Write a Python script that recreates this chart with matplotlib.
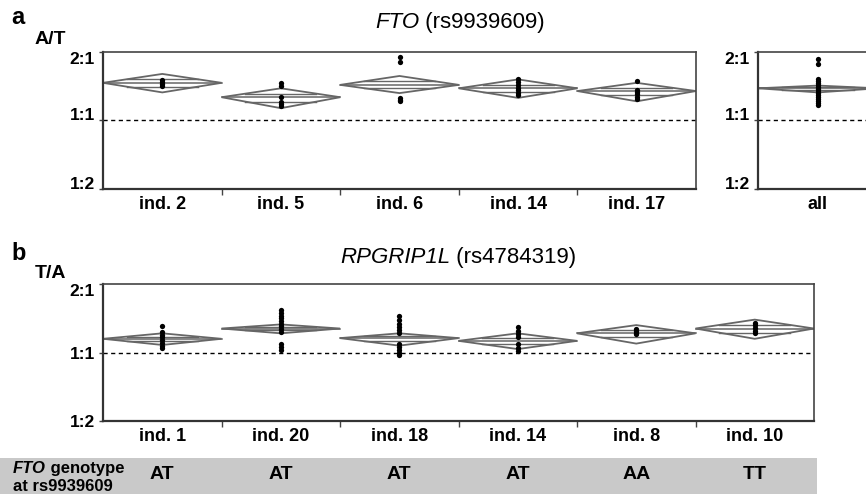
import numpy as np
import matplotlib
matplotlib.use('Agg')
import matplotlib.pyplot as plt
from matplotlib.patches import Polygon, Rectangle
from matplotlib.transforms import blended_transform_factory

plt.rcParams['font.family'] = ['Liberation Sans', 'DejaVu Sans']

# ── data (log2 allelic ratio; 1 = 2:1, 0 = 1:1, -1 = 1:2) ─────────────────
labels_a = ['ind. 2', 'ind. 5', 'ind. 6', 'ind. 14', 'ind. 17']
mean_a   = [0.55, 0.34, 0.52, 0.47, 0.43]
upper_a  = [0.68, 0.47, 0.65, 0.60, 0.55]
lower_a  = [0.41, 0.18, 0.40, 0.33, 0.28]
points_a = [
    [0.59, 0.56, 0.53, 0.50],
    [0.55, 0.50, 0.34, 0.27, 0.24, 0.21],
    [0.93, 0.86, 0.33, 0.30, 0.28],
    [0.60, 0.56, 0.52, 0.48, 0.44, 0.40, 0.37],
    [0.57, 0.45, 0.41, 0.38, 0.35, 0.32],
]

labels_all = ['all']
mean_all   = [0.47]
upper_all  = [0.51]
lower_all  = [0.41]
points_all = [[0.90, 0.83, 0.61, 0.58, 0.55, 0.52, 0.49, 0.46, 0.43,
               0.40, 0.37, 0.34, 0.31, 0.28, 0.25, 0.22]]

labels_b = ['ind. 1', 'ind. 20', 'ind. 18', 'ind. 14', 'ind. 8', 'ind. 10']
mean_b   = [0.20, 0.35, 0.21, 0.17, 0.28, 0.35]
upper_b  = [0.28, 0.41, 0.28, 0.28, 0.40, 0.48]
lower_b  = [0.11, 0.28, 0.10, 0.05, 0.13, 0.20]
points_b = [
    [0.39, 0.30, 0.26, 0.22, 0.18, 0.14, 0.10, 0.07],
    [0.62, 0.58, 0.54, 0.50, 0.46, 0.42, 0.38, 0.34, 0.30, 0.13, 0.08, 0.04],
    [0.53, 0.47, 0.42, 0.37, 0.33, 0.28, 0.12, 0.08, 0.04, 0.00, -0.04],
    [0.37, 0.32, 0.27, 0.22, 0.12, 0.07, 0.02],
    [0.35, 0.32, 0.29, 0.27],
    [0.43, 0.40, 0.36, 0.31, 0.29],
]
genotypes_b = ['AT', 'AT', 'AT', 'AT', 'AA', 'TT']

YTICKS = [1, 0, -1]
YTICKLABELS = ['2:1', '1:1', '1:2']

DCOL = '#666666'


def diamond_panel(ax, labels, means, uppers, lowers, points, yvas):
    n = len(labels)
    for i in range(n):
        m, u, l = means[i], uppers[i], lowers[i]
        poly = Polygon([(i - 0.5, m), (i, u), (i + 0.5, m), (i, l)],
                       closed=True, fill=False, edgecolor=DCOL, lw=1.3, zorder=2)
        ax.add_patch(poly)
        ax.plot([i - 0.5, i + 0.5], [m, m], color=DCOL, lw=1.1, zorder=2)
        # overlap marks
        f = 0.4
        hw = 0.5 * (1 - f)
        ax.plot([i - hw, i + hw], [m + f * (u - m)] * 2, color=DCOL, lw=1.0, zorder=2)
        ax.plot([i - hw, i + hw], [m - f * (m - l)] * 2, color=DCOL, lw=1.0, zorder=2)
        ax.plot([i] * len(points[i]), points[i], 'o', color='black',
                ms=3.8, mew=0, zorder=3)
    ax.axhline(0, color='black', lw=1.0, ls=(0, (3, 2.5)), zorder=1)
    ax.set_xlim(-0.5, n - 0.5)
    ax.set_ylim(-1, 1)
    ax.set_yticks(YTICKS)
    ax.set_yticklabels(YTICKLABELS, fontsize=12.5, fontweight='bold')
    for lab, va in zip(ax.get_yticklabels(), yvas):
        lab.set_verticalalignment(va)
    ax.tick_params(axis='y', length=3, width=1, pad=3, color='#444')
    ax.set_xticks([i + 0.5 for i in range(n - 1)])
    ax.set_xticklabels([])
    ax.tick_params(axis='x', which='major', length=4, width=1, color='#444')
    ax.set_xticks(range(n), minor=True)
    ax.set_xticklabels(labels, minor=True, fontsize=13, fontweight='bold')
    ax.tick_params(axis='x', which='minor', length=0, pad=5)
    for s in ['left', 'bottom']:
        ax.spines[s].set_linewidth(1.6)
        ax.spines[s].set_color('#333')
    for s in ['top', 'right']:
        ax.spines[s].set_linewidth(1.2)
        ax.spines[s].set_color('#444')


W, H = 866, 494
fig = plt.figure(figsize=(W / 100, H / 100), dpi=100)


def px_axes(x0, y0, x1, y1):
    return fig.add_axes([x0 / W, 1 - y1 / H, (x1 - x0) / W, (y1 - y0) / H])


def mixed_text(x_px, y_px, parts, **kw):
    # parts: list of (string, style); drawn one after another on a baseline
    renderer = fig.canvas.get_renderer()
    x = x_px
    for s, style in parts:
        t = fig.text(x / W, 1 - y_px / H, s, style=style, va='baseline',
                     ha='left', **kw)
        x += t.get_window_extent(renderer).width


ax_a = px_axes(103, 52, 696, 189)
diamond_panel(ax_a, labels_a, mean_a, upper_a, lower_a, points_a,
              ['top', 'baseline', 'baseline'])

ax_all = px_axes(758, 52, 878, 189)
diamond_panel(ax_all, labels_all, mean_all, upper_all, lower_all, points_all,
              ['top', 'baseline', 'baseline'])

ax_b = px_axes(103, 284, 814, 421)
diamond_panel(ax_b, labels_b, mean_b, upper_b, lower_b, points_b,
              ['top', 'center_baseline', 'center_baseline'])

# gray genotype band
fig.patches.append(Rectangle((0, 0), 817 / W, 1 - 458 / H, transform=fig.transFigure,
                             facecolor='#c9c9c9', edgecolor='none', zorder=0))
trans = blended_transform_factory(ax_b.transData, fig.transFigure)
for i, g in enumerate(genotypes_b):
    fig.text(i, 1 - 474 / H, g, transform=trans, ha='center', va='center',
             fontsize=14, fontweight='bold')

mixed_text(13, 473, [('FTO', 'italic'), (' genotype', 'normal')],
           fontsize=12, fontweight='bold')
mixed_text(13, 491, [('at rs9939609', 'normal')], fontsize=12, fontweight='bold')

# titles with italic gene names
mixed_text(375, 28, [('FTO', 'italic'), (' (rs9939609)', 'normal')], fontsize=16)
mixed_text(340, 263, [('RPGRIP1L', 'italic'), (' (rs4784319)', 'normal')], fontsize=16)

# panel letters and axis unit labels
fig.text(11 / W, 1 - 24 / H, 'a', fontsize=17, fontweight='bold', va='baseline', ha='left')
fig.text(11 / W, 1 - 260 / H, 'b', fontsize=17, fontweight='bold', va='baseline', ha='left')
fig.text(35 / W, 1 - 39 / H, 'A/T', fontsize=14, fontweight='bold', va='center', ha='left')
fig.text(35 / W, 1 - 274 / H, 'T/A', fontsize=14, fontweight='bold', va='center', ha='left')

fig.savefig('out.png', dpi=100)
